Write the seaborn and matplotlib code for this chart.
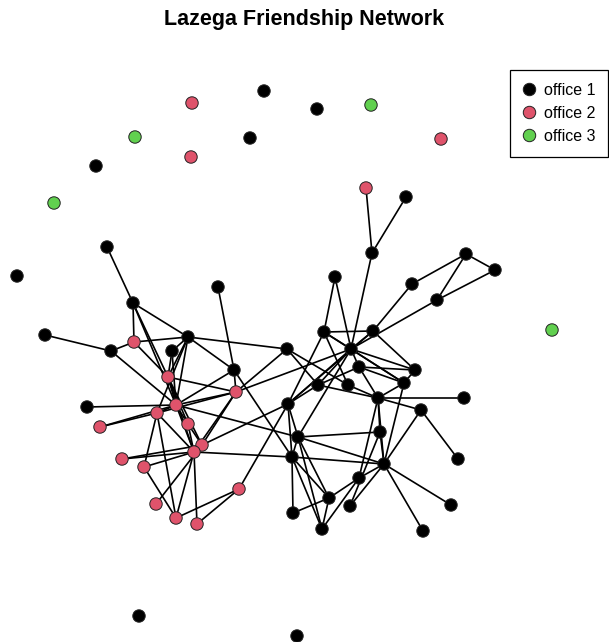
import numpy as np
import pandas as pd
import matplotlib
matplotlib.use("Agg")
import matplotlib.pyplot as plt
import seaborn as sns

# node layout (screen-like coords, y grows downward) and office of each lawyer
node_id = ["i1", "i2", "i3", "i4", "i5", "i6", "i7", "i8", "i9", "i10", "i11", "i12", "i13", "i14",
           "n1", "n2", "n3", "n4", "n5", "n6", "n7", "n8", "n9", "n10",
           "n11", "n12", "n13", "n14", "n15", "n16", "n17", "n18", "n19", "n20",
           "n21", "n22", "n23", "n24", "n25", "n26", "n27", "n28", "n29", "n30",
           "n31", "n32", "n33", "n34", "n35", "n36", "n37", "n38", "n39", "n40",
           "n41", "n42", "n43", "n44", "n45", "n46", "n47", "n48", "n49", "n50",
           "n51", "n52", "n53", "n54", "n55", "n56", "n57"]
node_x = [264, 192, 317, 371, 135, 250, 441, 96, 191, 54, 17, 552, 139, 297,
          366, 406, 372, 466, 495, 412, 437, 335, 107, 218,
          133, 45, 134, 188, 111, 172, 287, 324, 373, 351,
          234, 168, 236, 318, 348, 359, 415, 404, 378, 464,
          87, 176, 157, 288, 421, 100, 188, 380, 202, 194,
          298, 122, 144, 292, 384, 458, 359, 239, 329, 350,
          156, 451, 293, 176, 197, 322, 423]
node_y = [91, 103, 109, 105, 137, 138, 139, 166, 157, 203, 276, 330, 616, 636,
          188, 197, 253, 254, 270, 284, 300, 277, 247, 287,
          303, 335, 342, 337, 351, 351, 349, 332, 331, 349,
          370, 377, 392, 385, 385, 367, 370, 383, 398, 398,
          407, 405, 413, 404, 410, 427, 424, 432, 445, 452,
          437, 459, 467, 457, 464, 459, 478, 489, 498, 506,
          504, 505, 513, 518, 524, 529, 531]
node_office = [1, 2, 1, 3, 3, 1, 2, 1, 2, 3, 1, 3, 1, 1,
               2, 1, 1, 1, 1, 1, 1, 1, 1, 1,
               1, 1, 2, 1, 1, 1, 1, 1, 1, 1,
               1, 2, 2, 1, 1, 1, 1, 1, 1, 1,
               1, 2, 2, 1, 1, 2, 2, 1, 2, 2,
               1, 2, 2, 1, 1, 1, 1, 2, 1, 1,
               2, 1, 1, 2, 2, 1, 1]

edges = [
    ("n1", "n3"), ("n2", "n3"), ("n3", "n20"),
    ("n4", "n5"), ("n4", "n6"), ("n4", "n7"), ("n5", "n7"), ("n6", "n19"), ("n7", "n20"),
    ("n8", "n18"), ("n8", "n20"),
    ("n9", "n11"), ("n11", "n13"), ("n11", "n14"), ("n11", "n22"), ("n11", "n32"),
    ("n12", "n15"), ("n15", "n13"), ("n13", "n14"), ("n15", "n32"), ("n13", "n22"),
    ("n10", "n21"),
    ("n14", "n16"), ("n14", "n17"), ("n14", "n21"), ("n14", "n22"), ("n14", "n32"), ("n14", "n33"),
    ("n16", "n22"), ("n16", "n32"),
    ("n21", "n23"), ("n21", "n32"), ("n21", "n44"),
    ("n17", "n24"), ("n17", "n25"),
    ("n22", "n32"), ("n22", "n23"), ("n22", "n37"), ("n22", "n40"), ("n22", "n39"),
    ("n31", "n32"),
    ("n32", "n33"), ("n32", "n23"), ("n32", "n37"), ("n32", "n40"), ("n32", "n41"), ("n32", "n36"),
    ("n33", "n36"), ("n33", "n23"), ("n33", "n40"), ("n33", "n43"), ("n33", "n54"),
    ("n37", "n39"), ("n37", "n40"),
    ("n23", "n39"), ("n23", "n40"), ("n23", "n20"), ("n23", "n17"),
    ("n39", "n34"), ("n39", "n40"), ("n39", "n51"),
    ("n40", "n44"), ("n40", "n42"), ("n40", "n43"), ("n40", "n54"), ("n40", "n55"),
    ("n43", "n54"), ("n54", "n48"), ("n55", "n48"), ("n42", "n39"),
    ("n48", "n34"),
    ("n18", "n19"), ("n18", "n20"), ("n18", "n25"), ("n18", "n34"), ("n18", "n28"),
    ("n19", "n20"), ("n19", "n27"), ("n19", "n34"),
    ("n20", "n26"), ("n20", "n27"), ("n20", "n28"), ("n20", "n24"), ("n20", "n34"), ("n20", "n41"),
    ("n26", "n27"), ("n26", "n28"), ("n26", "n29"), ("n26", "n24"),
    ("n24", "n34"), ("n24", "n29"),
    ("n25", "n29"),
    ("n29", "n30"), ("n29", "n28"), ("n29", "n38"), ("n29", "n45"), ("n29", "n47"), ("n29", "n35"),
    ("n28", "n27"), ("n28", "n45"),
    ("n35", "n45"), ("n35", "n46"),
    ("n34", "n41"), ("n34", "n44"),
    ("n41", "n38"), ("n41", "n44"), ("n41", "n49"), ("n41", "n45"), ("n41", "n56"),
    ("n44", "n45"), ("n44", "n53"), ("n44", "n56"), ("n44", "n49"),
    ("n53", "n49"), ("n49", "n47"), ("n49", "n56"), ("n47", "n45"), ("n47", "n56"),
    ("n50", "n45"), ("n50", "n38"),
    ("n45", "n52"), ("n45", "n57"), ("n45", "n38"),
]

office_colors = {"office 1": "#000000", "office 2": "#DF536B", "office 3": "#61D04F"}

nodes = pd.DataFrame({"x": node_x, "y": node_y,
                      "office": ["office %d" % o for o in node_office]}, index=node_id)

sns.set_style("white")
plt.rcParams["font.family"] = ["Liberation Sans", "DejaVu Sans"]
plt.rcParams["text.color"] = "black"

fig = plt.figure(figsize=(6.09, 6.42), dpi=100)
ax = fig.add_axes([0, 0, 1, 1])

for a, b in edges:
    ax.plot([nodes.loc[a, "x"], nodes.loc[b, "x"]], [nodes.loc[a, "y"], nodes.loc[b, "y"]],
            color="black", linewidth=1.2, zorder=1)

sns.scatterplot(data=nodes, x="x", y="y", hue="office", hue_order=list(office_colors),
                palette=office_colors, s=80, edgecolor="#222222", linewidth=0.7,
                ax=ax, zorder=3)

ax.set_xlim(0, 609)
ax.set_ylim(642, 0)
ax.axis("off")

handles, labels = ax.get_legend_handles_labels()
leg = ax.legend(handles, labels, loc="upper left", bbox_to_anchor=(510 / 609, 1 - 70 / 642),
                bbox_transform=fig.transFigure, borderaxespad=0, frameon=True, fancybox=False,
                fontsize=11.5, labelspacing=0.5, handletextpad=0.5, borderpad=0.8,
                handlelength=0.8, markerscale=1.0)
leg.get_frame().set_edgecolor("black")
leg.get_frame().set_linewidth(0.9)
leg.get_frame().set_alpha(1)

fig.suptitle("Lazega Friendship Network", fontsize=15.5, fontweight="bold", color="black",
             y=1 - 20 / 642, va="center")

fig.savefig("out.png", dpi=100)
